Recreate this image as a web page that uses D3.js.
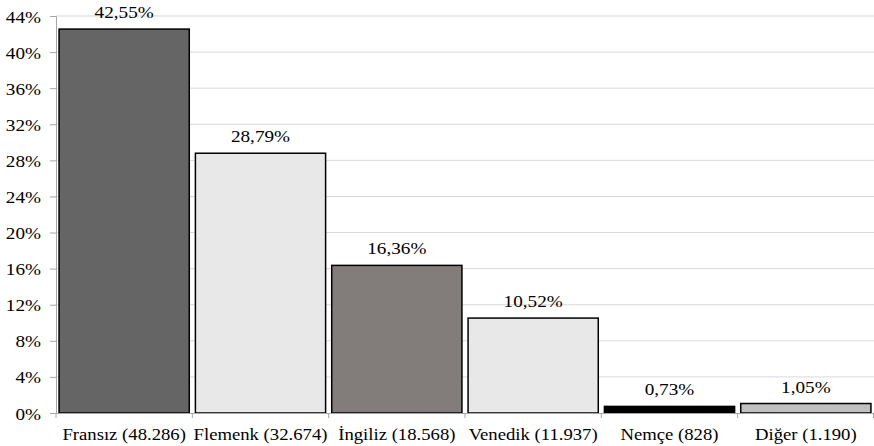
<!DOCTYPE html>
<html><head><meta charset="utf-8">
<script src="https://cdn.jsdelivr.net/npm/d3@7"></script>
<style>body{margin:0;background:#fff}svg{display:block}</style>
</head><body><svg id="c" width="874" height="446"></svg>
<script>
const categories = ["Fransız (48.286)","Flemenk (32.674)","İngiliz (18.568)","Venedik (11.937)","Nemçe (828)","Diğer (1.190)"];
const values = [42.55, 28.79, 16.36, 10.52, 0.73, 1.05];
const valueLabels = ["42,55%","28,79%","16,36%","10,52%","0,73%","1,05%"];
const colors = ["#646564","#e8e8e8","#827d7b","#e8e8e8","#000000","#c0c0c0"];
const yTicks = [0,4,8,12,16,20,24,28,32,36,40,44];

(function(){
const FF = "Liberation Serif";
const svg = d3.select("#c");
const FS = 17, SX = 1.13, SXL = 1.1;
const mL = 56, mR = 874, mT = 16, mB = 413;
const x = d3.scaleBand().domain(categories).range([mL, mR]).paddingInner(0.045).paddingOuter(0.0225);
const xb = d3.scaleBand().domain(categories).range([mL, mR]);
const y = d3.scaleLinear().domain([0,44]).range([mB, mT]);

svg.append("g").selectAll("line").data(yTicks.slice(1)).join("line")
  .attr("x1", mL).attr("x2", mR).attr("y1", d=>y(d)).attr("y2", d=>y(d))
  .attr("stroke", "#d9d9d9").attr("stroke-width", 1);

svg.append("g").selectAll("rect").data(values).join("rect")
  .attr("x", (d,i)=>x(categories[i])).attr("width", x.bandwidth())
  .attr("y", d=>y(d)).attr("height", d=>mB - y(d))
  .attr("fill", (d,i)=>colors[i]).attr("stroke", "#000").attr("stroke-width", 1.5);

svg.append("g").selectAll("text").data(values).join("text")
  .attr("transform", (d,i)=>`translate(${x(categories[i]) + x.bandwidth()/2},${y(d) - 11}) scale(${SX},1)`)
  .attr("text-anchor", "middle").attr("font-family", FF).attr("font-size", FS).attr("fill", "#000")
  .text((d,i)=>valueLabels[i]);

const yAxis = d3.axisLeft(y).tickValues(yTicks).tickFormat(d=>d+"%").tickSize(6).tickPadding(9);
const gy = svg.append("g").attr("transform", `translate(${mL},0)`).call(yAxis);
gy.attr("font-family", FF).attr("font-size", FS);
gy.select(".domain").attr("stroke", "#a6a6a6");
gy.selectAll(".tick line").attr("stroke", "#a6a6a6");
gy.selectAll(".tick text").attr("x", null).attr("dy", null)
  .attr("transform", `translate(-15,6) scale(${SX},1)`)
  .attr("font-family", FF).attr("font-size", FS).attr("fill", "#000");

const gx = svg.append("g");
gx.append("line").attr("x1", mL).attr("x2", mR).attr("y1", mB+0.5).attr("y2", mB+0.5).attr("stroke", "#a6a6a6");
const bounds = categories.map(c=>xb(c)).concat([mR - 0.5]);
gx.selectAll("line.t").data(bounds).join("line").attr("class","t")
  .attr("x1", d=>d).attr("x2", d=>d).attr("y1", mB).attr("y2", mB+5).attr("stroke", "#a6a6a6");
gx.selectAll("text").data(categories).join("text")
  .attr("transform", d=>`translate(${xb(d) + xb.bandwidth()/2},440) scale(${SXL},1)`)
  .attr("text-anchor", "middle").attr("font-family", FF).attr("font-size", FS).attr("fill", "#000").text(d=>d);
})();
</script></body></html>
